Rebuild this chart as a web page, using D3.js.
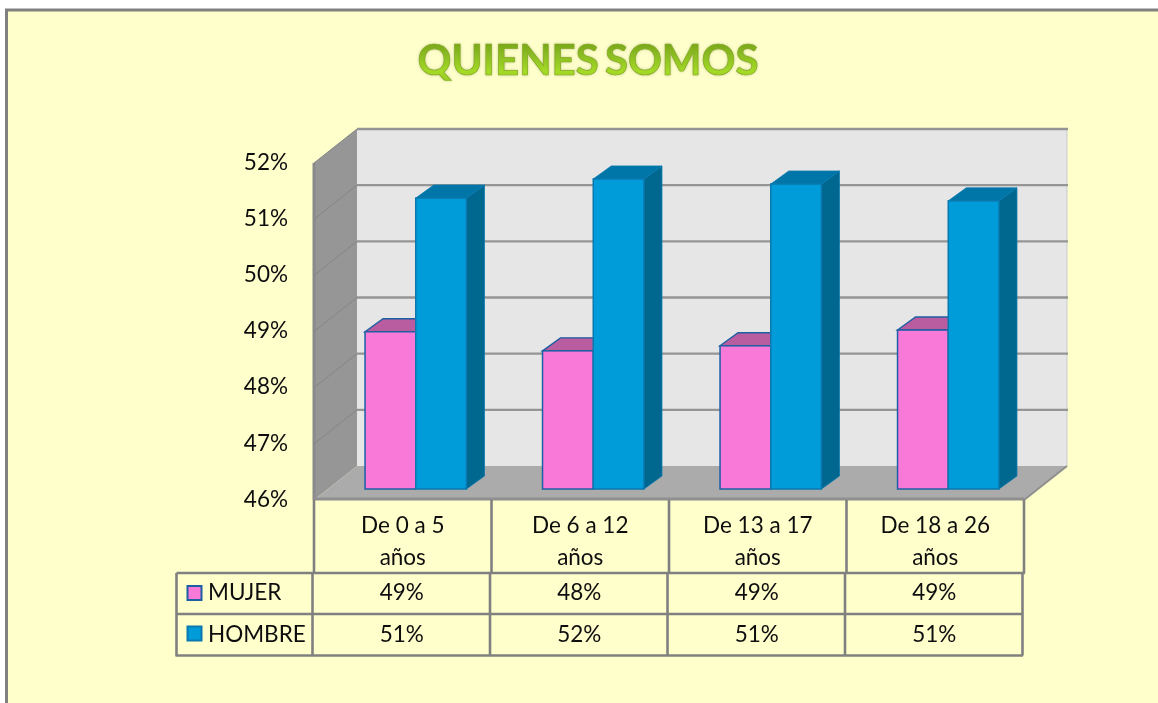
<!DOCTYPE html>
<html><head><meta charset="utf-8">
<script src="https://cdn.jsdelivr.net/npm/d3@7/dist/d3.min.js"></script>
<style>html,body{margin:0;padding:0;background:#fff;overflow:hidden}svg{display:block}text{font-family:Lato,"Noto Sans",sans-serif;fill:#111}</style>
</head><body><div id="c"></div>
<script>
const title = "QUIENES SOMOS";
const categories = ["De 0 a 5 años","De 6 a 12 años","De 13 a 17 años","De 18 a 26 años"];
const seriesNames = ["MUJER","HOMBRE"];
const mujer = [48.8,48.46,48.55,48.83];
const hombre = [51.18,51.52,51.43,51.13];
const tickValues = [46,47,48,49,50,51,52];

const W=1158,H=703;
const svg=d3.select("#c").append("svg").attr("width",W).attr("height",H);
const defs=svg.append("defs");
const g=defs.append("linearGradient").attr("id","tg").attr("x1",0).attr("x2",0).attr("y1",0).attr("y2",1);
g.append("stop").attr("offset","15%").attr("stop-color","#76a31c");
g.append("stop").attr("offset","75%").attr("stop-color","#a4da27");
g.append("stop").attr("offset","100%").attr("stop-color","#93c423");
const f=defs.append("filter").attr("id","sh").attr("x","-5%").attr("y","-20%").attr("width","110%").attr("height","140%");
f.append("feGaussianBlur").attr("in","SourceAlpha").attr("stdDeviation",1.4).attr("result","b");
f.append("feFlood").attr("flood-color","#8a9a50").attr("flood-opacity",.5).attr("result","c");
f.append("feComposite").attr("in","c").attr("in2","b").attr("operator","in").attr("result","s");
const m=f.append("feMerge");m.append("feMergeNode").attr("in","s");m.append("feMergeNode").attr("in","SourceGraphic");
defs.append("filter").attr("id","soft").attr("x","-5%").attr("y","-5%").attr("width","110%").attr("height","110%")
  .append("feGaussianBlur").attr("stdDeviation",.35);

// page frame
svg.append("rect").attr("x",6.5).attr("y",10).attr("width",W).attr("height",H).attr("fill","#FFFFCC").attr("stroke","#808080").attr("stroke-width",3);

// title
svg.append("text").attr("x",588).attr("y",75).attr("text-anchor","middle").attr("font-size",42).attr("font-weight",700)
  .attr("word-spacing",-4).attr("textLength",341).attr("lengthAdjust","spacingAndGlyphs")
  .attr("stroke","#86a922").attr("stroke-width",.7)
  .attr("filter","url(#sh)").style("fill","url(#tg)").text(title);

// scales
const x0=314,x1=1024,depthX=43,depthY=34;
const y=d3.scaleLinear().domain([46,52]).range([500,163]);
const planeX=13,planeY=11,barDX=18,barDY=13;
const xBand=d3.scaleBand().domain(categories).range([x0,x1]);
const xSeries=d3.scaleBand().domain(seriesNames).range([0,xBand.bandwidth()]).paddingInner(0).paddingOuter(.75);

// walls
const poly=(pts,fill,stroke,sw)=>svg.append("polygon").attr("points",pts.map(p=>p.join(",")).join(" ")).attr("fill",fill).attr("stroke",stroke||"none").attr("stroke-width",sw||0);
const yTop=y(52),yBot=y(46);
poly([[x0+depthX,yTop-depthY],[x1+depthX,yTop-depthY],[x1+depthX,yBot-depthY],[x0+depthX,yBot-depthY]],"#E6E6E6");
svg.append("line").attr("x1",x1+depthX).attr("x2",x1+depthX).attr("y1",yTop-depthY).attr("y2",yBot-depthY).attr("stroke","#c9c9d2").attr("stroke-width",1);
poly([[x0,yTop],[x0+depthX,yTop-depthY],[x0+depthX,yBot-depthY],[x0,yBot]],"#969696");
svg.append("line").attr("x1",x0).attr("x2",x0).attr("y1",yTop).attr("y2",yBot).attr("stroke","#8a8a8a").attr("stroke-width",3);
poly([[x0,yBot],[x0+depthX,yBot-depthY],[x1+depthX,yBot-depthY],[x1,yBot]],"#ABABAB");
svg.append("line").attr("x1",x1).attr("x2",x1+depthX).attr("y1",yBot).attr("y2",yBot-depthY).attr("stroke","#8f8f8f").attr("stroke-width",2);
svg.append("line").attr("x1",x0).attr("x2",x1).attr("y1",yBot-1).attr("y2",yBot-1).attr("stroke","#8f8f8f").attr("stroke-width",3);

// gridlines
tickValues.forEach(t=>{
  if(t===46) return;
  svg.append("line").attr("x1",x0+depthX).attr("x2",x1+depthX+1).attr("y1",y(t)-depthY).attr("y2",y(t)-depthY).attr("stroke","#959595").attr("stroke-width",2.4);
  svg.append("line").attr("x1",x0).attr("x2",x0+depthX).attr("y1",y(t)).attr("y2",y(t)-depthY).attr("stroke","#858585").attr("stroke-width",1);
});

// bars
const styles={MUJER:{front:"#F979D9",top:"#BA5CA0",side:"#9c4d88",stroke:"#1d5fa3"},
              HOMBRE:{front:"#009CD9",top:"#0076A8",side:"#00678F",stroke:"#0a78ae"}};
const values={MUJER:mujer,HOMBRE:hombre};
categories.forEach((c,i)=>{
  seriesNames.forEach(s=>{
    const st=styles[s];
    const l=xBand(c)+xSeries(s)+planeX, r=l+xSeries.bandwidth();
    const t=y(values[s][i])-planeY, b=y(46)-planeY;
    poly([[r,t],[r+barDX,t-barDY],[r+barDX,b-barDY],[r,b]],st.side,st.stroke,.8);
    poly([[l,t],[l+barDX,t-barDY],[r+barDX,t-barDY],[r,t]],st.top,st.stroke,s==="MUJER"?1.4:.8);
    svg.append("rect").attr("x",l).attr("y",t).attr("width",r-l).attr("height",b-t).attr("fill",st.front).attr("stroke",st.stroke).attr("stroke-width",1.5);
  });
});

// y axis
const fs=22.5;
const ax=svg.append("g").attr("transform","translate(288,-1)").attr("filter","url(#soft)").call(d3.axisLeft(y).tickValues(tickValues).tickSize(0).tickPadding(0).tickFormat(d=>d+"%"));
ax.select(".domain").remove();
ax.selectAll("text").attr("font-size",fs).style("font-family",'Lato,"Noto Sans",sans-serif').style("fill","#111");

// table
const rowTop=500,row1=573,row2=614,row3=655.5,legL=176.5;
const tl=(a,b,c,d)=>svg.append("line").attr("x1",a).attr("y1",b).attr("x2",c).attr("y2",d).attr("stroke","#808080").attr("stroke-width",2.6);
[...categories.map(c=>xBand(c)),x1].forEach(v=>{tl(v,rowTop,v,row1);tl(v-1.5,row1,v-1.5,row3);});
tl(legL,row1,x1+1,row1);tl(legL,row2,x1-1,row2);tl(legL-1,row3,x1-1,row3);tl(legL,row1,legL,row3);

const tbl=svg.append("g").attr("filter","url(#soft)");
categories.forEach((c,i)=>{
  const cx=xBand(c)+xBand.bandwidth()/2;
  const k=c.lastIndexOf(" ");
  [c.slice(0,k),c.slice(k+1)].forEach((ln,j)=>{
    tbl.append("text").attr("x",cx).attr("y",533+j*32).attr("text-anchor","middle").attr("font-size",fs).text(ln);
  });
  tbl.append("text").attr("x",cx-1).attr("y",600).attr("text-anchor","middle").attr("font-size",fs).text(Math.round(mujer[i])+"%");
  tbl.append("text").attr("x",cx-1).attr("y",641.5).attr("text-anchor","middle").attr("font-size",fs).text(Math.round(hombre[i])+"%");
});
seriesNames.forEach((s,i)=>{
  const cy=[593,633.5][i], base=[600,641.5][i];
  svg.append("rect").attr("x",187.5).attr("y",cy-7).attr("width",14).attr("height",14).attr("fill",styles[s].front).attr("stroke",s==="MUJER"?"#1d5fa3":"#0a78ae").attr("stroke-width",2);
  tbl.append("text").attr("x",208).attr("y",base).attr("font-size",fs).text(s);
});
</script></body></html>
